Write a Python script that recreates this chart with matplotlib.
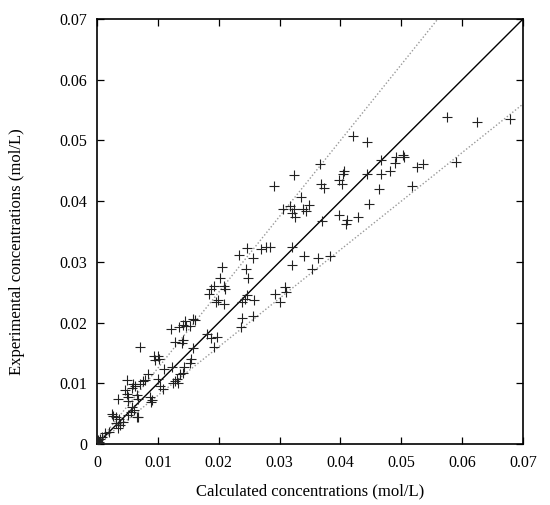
import matplotlib
matplotlib.use("Agg")
import matplotlib.pyplot as plt
import numpy as np

plt.rcParams['font.family'] = ['Liberation Serif', 'DejaVu Serif']

# calculated (x) vs experimental (y) concentrations, mol/L
calc = [
    0.0575, 0.0625, 0.0679, 0.0421, 0.0444, 0.0590, 0.0466, 0.0491, 0.0503, 0.0505,
    0.0490, 0.0481, 0.0466, 0.0443, 0.0525, 0.0536, 0.0517, 0.0463, 0.0447, 0.0367,
    0.0405, 0.0404, 0.0398, 0.0402, 0.0368, 0.0373, 0.0335, 0.0324, 0.0290, 0.0369,
    0.0397, 0.0410, 0.0409, 0.0429, 0.0305, 0.0317, 0.0320, 0.0324, 0.0326, 0.0339,
    0.0343, 0.0349, 0.0340, 0.0363, 0.0382, 0.0353, 0.0320, 0.0320, 0.0284, 0.0278,
    0.0270, 0.0246, 0.0233, 0.0256, 0.0205, 0.0245, 0.0202, 0.0248, 0.0187, 0.0193,
    0.0208, 0.0210, 0.0184, 0.0196, 0.0199, 0.0208, 0.0246, 0.0243, 0.0238, 0.0258,
    0.0292, 0.0309, 0.0311, 0.0301, 0.0238, 0.0237, 0.0257, 0.0157, 0.0161, 0.0145,
    0.0141, 0.0147, 0.0153, 0.0135, 0.0122, 0.0128, 0.0139, 0.0142, 0.0180, 0.0187,
    0.0197, 0.0193, 0.0158, 0.0154, 0.0152, 0.0093, 0.0100, 0.0095, 0.0102, 0.0071,
    0.0110, 0.0123, 0.0143, 0.0141, 0.0137, 0.0084, 0.0131, 0.0128, 0.0133, 0.0125,
    0.0101, 0.0104, 0.0108, 0.0050, 0.0059, 0.0062, 0.0057, 0.0071, 0.0076, 0.0079,
    0.0046, 0.0049, 0.0051, 0.0065, 0.0067, 0.0051, 0.0034, 0.0087, 0.0090, 0.0089,
    0.0057, 0.0060, 0.0056, 0.0051, 0.0065, 0.0068, 0.0024, 0.0027, 0.0032, 0.0036,
    0.0031, 0.0038, 0.0042, 0.0035, 0.0019, 0.0013, 0.0009, 0.0005, 0.0002, 0.0000,
    0.0003, 0.0001,
]
expt = [
    0.0538, 0.0530, 0.0535, 0.0508, 0.0497, 0.0464, 0.0468, 0.0472, 0.0476, 0.0473,
    0.0462, 0.0450, 0.0444, 0.0445, 0.0456, 0.0461, 0.0425, 0.0420, 0.0396, 0.0461,
    0.0450, 0.0445, 0.0434, 0.0428, 0.0429, 0.0421, 0.0407, 0.0443, 0.0425, 0.0368,
    0.0377, 0.0369, 0.0362, 0.0374, 0.0387, 0.0392, 0.0381, 0.0387, 0.0374, 0.0387,
    0.0383, 0.0393, 0.0310, 0.0307, 0.0309, 0.0288, 0.0324, 0.0295, 0.0324, 0.0324,
    0.0321, 0.0322, 0.0311, 0.0307, 0.0291, 0.0288, 0.0273, 0.0273, 0.0256, 0.0260,
    0.0260, 0.0255, 0.0247, 0.0234, 0.0237, 0.0230, 0.0245, 0.0238, 0.0234, 0.0237,
    0.0247, 0.0259, 0.0251, 0.0234, 0.0207, 0.0193, 0.0210, 0.0206, 0.0204, 0.0203,
    0.0196, 0.0194, 0.0194, 0.0193, 0.0189, 0.0168, 0.0167, 0.0172, 0.0181, 0.0174,
    0.0176, 0.0159, 0.0158, 0.0140, 0.0133, 0.0145, 0.0145, 0.0139, 0.0140, 0.0160,
    0.0124, 0.0126, 0.0126, 0.0117, 0.0115, 0.0116, 0.0107, 0.0103, 0.0100, 0.0100,
    0.0107, 0.0095, 0.0090, 0.0106, 0.0099, 0.0096, 0.0093, 0.0099, 0.0103, 0.0105,
    0.0089, 0.0083, 0.0078, 0.0081, 0.0074, 0.0070, 0.0074, 0.0078, 0.0072, 0.0069,
    0.0061, 0.0056, 0.0052, 0.0048, 0.0044, 0.0044, 0.0049, 0.0046, 0.0044, 0.0041,
    0.0035, 0.0031, 0.0037, 0.0026, 0.0020, 0.0018, 0.0012, 0.0009, 0.0007, 0.0005,
    0.0003, 0.0002,
]

ticks = [0, 0.01, 0.02, 0.03, 0.04, 0.05, 0.06, 0.07]
tick_labels = ['0', '0.01', '0.02', '0.03', '0.04', '0.05', '0.06', '0.07']
slopes_band = [1.25, 0.8]

fig = plt.figure(figsize=(5.5, 5.05), dpi=100)
ax = fig.add_axes([0.1764, 0.1208, 0.7746, 0.8416])

line_x = np.array([0, 0.07])
ax.plot(line_x, line_x, color='black', lw=1.0, zorder=2)
for s in slopes_band:
    ax.plot(line_x, s * line_x, color='#999999', lw=1.0, ls=(0, (1, 1.5)), zorder=1)

ax.plot(calc, expt, ls='none', marker='+', ms=6.5, mew=0.8, color='#222222', zorder=3)

ax.set_xlim(0, 0.07)
ax.set_ylim(0, 0.07)
ax.set_xticks(ticks)
ax.set_xticklabels(tick_labels)
ax.set_yticks(ticks)
ax.set_yticklabels(tick_labels)
ax.tick_params(direction='in', top=True, right=True, length=5, width=0.9,
               labelsize=11.5)
ax.tick_params(axis='x', pad=8)
ax.tick_params(axis='y', pad=7)
for sp in ax.spines.values():
    sp.set_linewidth(1.2)

ax.set_xlabel('Calculated concentrations (mol/L)', fontsize=12, labelpad=9)
ax.set_ylabel('Experimental concentrations (mol/L)', fontsize=12)
ax.yaxis.set_label_coords(-0.168, 0.452)

fig.savefig('out.png', dpi=100)
